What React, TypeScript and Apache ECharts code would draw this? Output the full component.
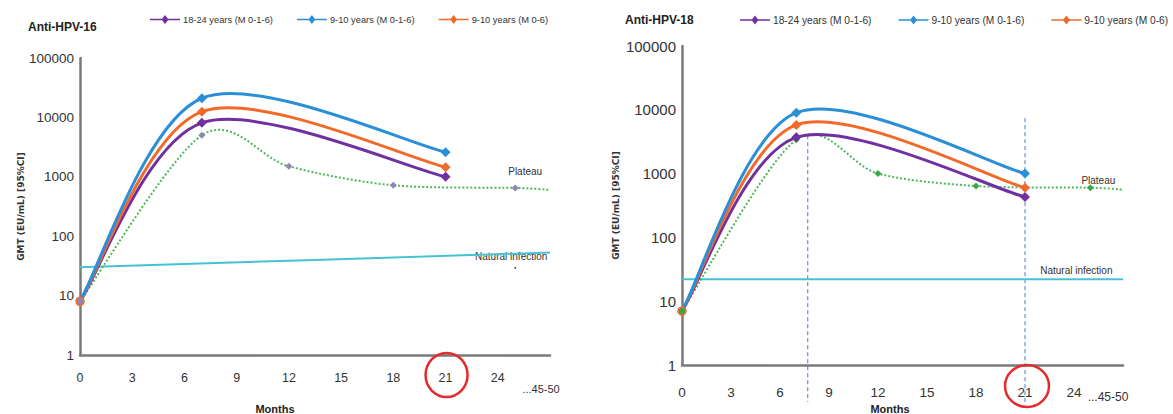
import React, { useEffect, useRef } from "react";
import * as echarts from "echarts";

// ---- data ----
const seriesNames = ["18-24 years (M 0-1-6)", "9-10 years (M 0-1-6)", "9-10 years (M 0-6)"];
const xTickLabels = ["0", "3", "6", "9", "12", "15", "18", "21", "24", "...45-50"];
const yTickLabels = ["1", "10", "100", "1000", "10000", "100000"];

const visitMonths = [0, 7, 21];
const plateauMonths = [0, 7, 12, 18, 25, 27];
const naturalMonths = [0, 27];

// Anti-HPV-16
const hpv16Adult = [8, 8100, 1000];
const hpv16GirlsThreeDose = [8, 21000, 2600];
const hpv16GirlsTwoDose = [8, 12500, 1450];
const hpv16Plateau = [8, 5000, 1500, 720, 650, 600];
const hpv16Natural = [30, 53];

// Anti-HPV-18
const hpv18Adult = [7, 3700, 430];
const hpv18GirlsThreeDose = [7, 9000, 1000];
const hpv18GirlsTwoDose = [7, 5800, 600];
const hpv18Plateau = [7, 3400, 1000, 640, 600, 560];
const hpv18Natural = [22, 22];

const COLORS = { adult: "#7030a0", three: "#2b8fd8", two: "#f26a2a", plateau: "#4cb85a", natural: "#45c3d3" };
const FONT = "'Liberation Sans', Arial, sans-serif";
const LEGEND_ICON = "path://M0,4.2L30,4.2L30,5.8L0,5.8Z M15,0.5L18.5,5L15,9.5L11.5,5Z";

const zip = (xs: number[], ys: number[]) => xs.map((x, i) => [x, ys[i]]);

// smooth curve (Catmull-Rom -> cubic Bezier) drawn in pixel space through the axis scales
function curveSeries(idx: number, xs: number[], ys: number[], color: string, width: number, dash?: number[], z = 5) {
  const k = 1 / 6.5;
  return {
    type: "custom",
    coordinateSystem: "cartesian2d",
    xAxisIndex: idx,
    yAxisIndex: idx,
    data: zip(xs, ys),
    silent: true,
    z,
    renderItem: (params: any, api: any) => {
      if (params.dataIndex !== 0) return null;
      const pts = xs.map((x, i) => api.coord([x, ys[i]]) as number[]);
      let d = `M${pts[0][0]},${pts[0][1]}`;
      for (let i = 0; i < pts.length - 1; i++) {
        const p0 = pts[Math.max(0, i - 1)];
        const p1 = pts[i];
        const p2 = pts[i + 1];
        const p3 = pts[Math.min(pts.length - 1, i + 2)];
        const c1 = [p1[0] + (p2[0] - p0[0]) * k, p1[1] + (p2[1] - p0[1]) * k];
        const c2 = [p2[0] - (p3[0] - p1[0]) * k, p2[1] - (p3[1] - p1[1]) * k];
        d += ` C${c1[0]},${c1[1]} ${c2[0]},${c2[1]} ${p2[0]},${p2[1]}`;
      }
      return {
        type: "path",
        shape: { pathData: d },
        style: { stroke: color, fill: "none", lineWidth: width, lineDash: dash || null },
      };
    },
  };
}

function markerSeries(idx: number, name: string, color: string, vals: number[], startStyle: any) {
  return {
    type: "scatter",
    name,
    xAxisIndex: idx,
    yAxisIndex: idx,
    data: zip(visitMonths, vals).map((d, i) =>
      i === 0
        ? startStyle
          ? { value: d, symbol: "circle", symbolSize: 8, itemStyle: startStyle }
          : { value: d, symbol: "none" }
        : { value: d }
    ),
    symbol: "diamond",
    symbolSize: 10,
    itemStyle: { color, opacity: 1 },
    z: 7,
  };
}

function plateauMarkers(idx: number, vals: number[], markerColor: string) {
  return {
    type: "scatter",
    name: "Plateau",
    xAxisIndex: idx,
    yAxisIndex: idx,
    data: zip(plateauMonths, vals).slice(1, plateauMonths.length - 1),
    symbol: "diamond",
    symbolSize: 7,
    itemStyle: { color: markerColor, opacity: 1 },
    z: 6,
  };
}

function xAxis(idx: number, fontSize: number, margin: number, shift: number[]) {
  return {
    type: "value",
    gridIndex: idx,
    min: 0,
    max: 27,
    interval: 3,
    axisLine: { show: true, lineStyle: { color: "#7a7a7a", width: 2.5 } },
    axisTick: { show: false },
    splitLine: { show: false },
    axisLabel: {
      margin,
      color: "#333",
      fontFamily: FONT,
      fontSize,
      formatter: (v: number) => {
        const i = Math.round(v / 3);
        if (i === xTickLabels.length - 1) return "{e|" + xTickLabels[i] + "}";
        return xTickLabels[i] ?? "";
      },
      rich: { e: { fontFamily: FONT, fontSize: fontSize - 1.5, color: "#333", padding: shift } },
    },
  };
}

function yAxis(idx: number, fontSize: number, nameGap: number) {
  return {
    type: "log",
    logBase: 10,
    gridIndex: idx,
    min: 1,
    max: 100000,
    name: "GMT (EU/mL) [95%CI]",
    nameLocation: "middle",
    nameGap,
    nameTextStyle: { fontFamily: "DejaVu Sans", fontWeight: "bold", fontSize: 9, color: "#333" },
    axisLine: { show: true, lineStyle: { color: "#7a7a7a", width: 2.5 } },
    axisTick: { show: false },
    splitLine: { show: false },
    minorTick: { show: false },
    axisLabel: {
      margin: 6,
      color: "#333",
      fontFamily: FONT,
      fontSize,
      formatter: (v: number) => yTickLabels[Math.round(Math.log10(v))] ?? "",
    },
  };
}

function legend(left: number, itemGap: number, fontSize: number) {
  return {
    left,
    top: 10,
    width: 900,
    data: seriesNames.map((name) => ({ name, icon: LEGEND_ICON })),
    itemGap,
    itemWidth: 30,
    itemHeight: 10,
    textStyle: { fontFamily: FONT, fontSize, color: "#333", padding: [0, 0, 0, -2] },
  };
}

export default function App() {
  const ref = useRef<HTMLDivElement>(null);
  useEffect(() => {
    if (!ref.current) return;
    const chart = echarts.init(ref.current, null, { renderer: "svg" });
    const startL = { color: "#8f86b3", borderColor: "#f26a2a", borderWidth: 1.5 };
    const startR = { color: "#3aa84a", borderColor: "#f26a2a", borderWidth: 1.5 };
    const option: any = {
      animation: false,
      backgroundColor: "#ffffff",
      title: [
        { text: "Anti-HPV-16", left: 23, top: 16, textStyle: { fontFamily: FONT, fontWeight: "bold", fontSize: 12, color: "#222" } },
        { text: "Anti-HPV-18", left: 620, top: 9, textStyle: { fontFamily: FONT, fontWeight: "bold", fontSize: 12, color: "#222" } },
      ],
      legend: [legend(145, 24, 9.3), legend(735, 27, 10.2)],
      grid: [
        { left: 80, top: 58, width: 470, height: 297 },
        { left: 682, top: 46, width: 441, height: 319 },
      ],
      xAxis: [xAxis(0, 12.5, 16, [12, 18, 0, 0]), xAxis(1, 13.5, 20, [6, 30, 0, 0])],
      yAxis: [yAxis(0, 13.5, 51), yAxis(1, 15, 62)],
      series: [
        curveSeries(0, naturalMonths, hpv16Natural, COLORS.natural, 2, undefined, 3),
        curveSeries(0, plateauMonths, hpv16Plateau, COLORS.plateau, 2, [2, 2], 4),
        curveSeries(0, visitMonths, hpv16Adult, COLORS.adult, 3),
        curveSeries(0, visitMonths, hpv16GirlsTwoDose, COLORS.two, 3),
        curveSeries(0, visitMonths, hpv16GirlsThreeDose, COLORS.three, 3),
        plateauMarkers(0, hpv16Plateau, "#8f86b3"),
        markerSeries(0, seriesNames[0], COLORS.adult, hpv16Adult, null),
        markerSeries(0, seriesNames[2], COLORS.two, hpv16GirlsTwoDose, startL),
        markerSeries(0, seriesNames[1], COLORS.three, hpv16GirlsThreeDose, null),

        curveSeries(1, naturalMonths, hpv18Natural, COLORS.natural, 2, undefined, 3),
        curveSeries(1, plateauMonths, hpv18Plateau, COLORS.plateau, 2, [2, 2], 4),
        curveSeries(1, visitMonths, hpv18Adult, COLORS.adult, 3),
        curveSeries(1, visitMonths, hpv18GirlsTwoDose, COLORS.two, 3),
        curveSeries(1, visitMonths, hpv18GirlsThreeDose, COLORS.three, 3),
        plateauMarkers(1, hpv18Plateau, "#3aa84a"),
        markerSeries(1, seriesNames[0], COLORS.adult, hpv18Adult, null),
        markerSeries(1, seriesNames[2], COLORS.two, hpv18GirlsTwoDose, startR),
        markerSeries(1, seriesNames[1], COLORS.three, hpv18GirlsThreeDose, null),
      ],
    };
    chart.setOption(option);

    const px = (idx: number, pt: number[]) =>
      chart.convertToPixel({ xAxisIndex: idx, yAxisIndex: idx } as any, pt) as number[];

    const labelStyle = { fontFamily: FONT, fontSize: 10, fill: "#333" };
    const p16Plateau = px(0, [25, 650]);
    const p16Nat = px(0, [25, 45]);
    const p18Plateau = px(1, [25, 600]);
    const p18Nat = px(1, [25, 22]);
    const c16 = px(0, [21, 1]);
    const c18 = px(1, [21, 1]);
    const d1Top = px(1, [7.7, 4000]);
    const d2Top = px(1, [21, 7400]);

    const graphic: any[] = [
      { type: "text", x: p16Plateau[0] + 10, y: p16Plateau[1] - 21, style: { ...labelStyle, text: "Plateau", textAlign: "center" } },
      { type: "text", x: p16Nat[0] - 4, y: p16Nat[1] - 5, style: { ...labelStyle, text: "Natural infection", textAlign: "center" } },
      { type: "circle", shape: { cx: p16Nat[0], cy: p16Nat[1] + 11, r: 1 }, style: { fill: "#555" } },
      { type: "text", x: p18Plateau[0] + 8, y: p18Plateau[1] - 12, style: { ...labelStyle, text: "Plateau", textAlign: "center" } },
      { type: "text", x: p18Nat[0] - 14, y: p18Nat[1] - 14, style: { ...labelStyle, text: "Natural infection", textAlign: "center" } },
      { type: "line", shape: { x1: d1Top[0], y1: d1Top[1], x2: d1Top[0], y2: 402 }, style: { stroke: "#4a78c8", lineWidth: 1, lineDash: [4, 3] }, z: 1 },
      { type: "line", shape: { x1: d2Top[0], y1: d2Top[1], x2: d2Top[0], y2: 402 }, style: { stroke: "#4a78c8", lineWidth: 1, lineDash: [4, 3] }, z: 1 },
      { type: "ellipse", shape: { cx: c16[0] + 1, cy: c16[1] + 20, rx: 21, ry: 22 }, style: { fill: "none", stroke: "#e52b2b", lineWidth: 2.5 }, z: 10 },
      { type: "ellipse", shape: { cx: c18[0] + 2, cy: c18[1] + 21, rx: 22, ry: 21 }, style: { fill: "none", stroke: "#e52b2b", lineWidth: 2.5 }, z: 10 },
      { type: "text", x: 275, y: 403, style: { text: "Months", fontFamily: FONT, fontWeight: "bold", fontSize: 11, fill: "#222", textAlign: "center" } },
      { type: "text", x: 890, y: 403, style: { text: "Months", fontFamily: FONT, fontWeight: "bold", fontSize: 11, fill: "#222", textAlign: "center" } },
    ];
    chart.setOption({ graphic });
    return () => chart.dispose();
  }, []);

  return (
    <div
      ref={ref}
      style={{ position: "fixed", left: 0, top: 0, width: 1173, height: 414, background: "#fff" }}
    />
  );
}
